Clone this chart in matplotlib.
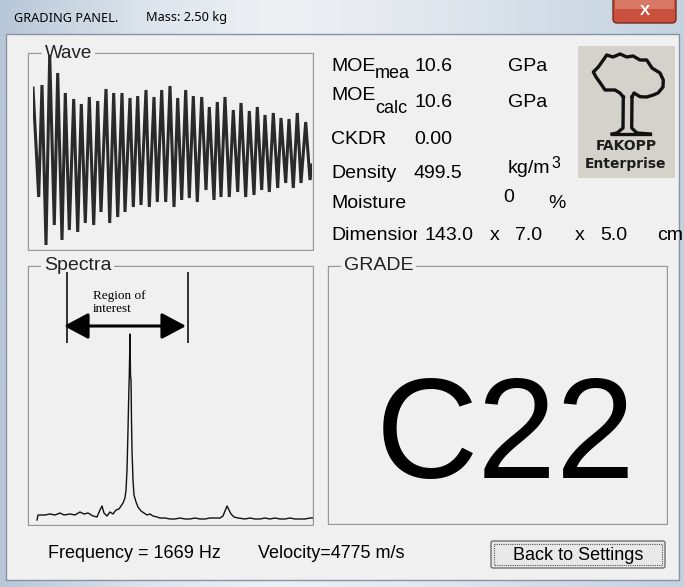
import numpy as np
import matplotlib.pyplot as plt
from matplotlib.patches import Rectangle, FancyBboxPatch, FancyArrowPatch
from matplotlib.colors import LinearSegmentedColormap

plt.rcParams['font.family'] = ['Liberation Sans', 'DejaVu Sans']

# ---- values ----
mass_kg = 2.50
moe_mea = 10.6
moe_calc = 10.6
ckdr = 0.00
density = 499.5
moisture = 0
dims_cm = [143.0, 7.0, 5.0]
frequency_hz = 1669
velocity_ms = 4775
grade = 'C22'

# wave: sample index and amplitude at the extremes of each half cycle
wave_t = [0, 5.7, 9, 13, 16.7, 21.3, 24.7, 29, 32.3, 36.3, 40.7, 44.7, 48.3, 52.3,
          56.3, 60.7, 64.7, 68, 73, 76.7, 80.7, 84.7, 89, 92, 97, 100.3, 104.7, 108,
          113, 116.3, 121, 124.3, 128.7, 132.7, 137, 141, 144.7, 148.7, 152.7, 156.3,
          160.3, 164.3, 168.7, 173, 176.3, 181, 184.3, 188, 192, 196.3, 200.3, 204.7,
          208, 212.7, 216.3, 221, 224.3, 228.7, 232, 236.3, 240.3, 244.7, 248, 252.7,
          256, 260.3, 264.3, 268, 272.7, 277, 279]
wave_amp = [62, -47, 65, -95, 95, -75, 77, -90, 57, -80, 51, -82, 46, -73,
            53, -75, 49, -62, 61, -73, 57, -67, 57, -62, 52, -57, 54, -55,
            60, -57, 53, -52, 60, -52, 64, -57, 52, -50, 60, -48,
            54, -52, 53, -40, 43, -50, 48, -47, 53, -47, 40, -42,
            47, -47, 39, -45, 43, -40, 35, -42, 37, -38, 32, -33,
            31, -38, 37, -33, 28, -30, -15]

# spectrum: frequency (Hz) and relative amplitude
spec_hz = [69, 86, 206, 292, 378, 464, 533, 636, 722, 808, 877, 946, 1032, 1101,
           1152, 1187, 1221, 1273, 1324, 1376, 1428, 1479, 1514, 1548, 1582, 1600,
           1617, 1634, 1646, 1656, 1669, 1677, 1686, 1694, 1703, 1720, 1737, 1772,
           1806, 1858, 1909, 1961, 2012, 2064, 2133, 2184, 2270, 2356, 2442, 2528,
           2614, 2700, 2786, 2872, 2958, 3044, 3130, 3216, 3268, 3302, 3338, 3371,
           3406, 3457, 3526, 3646, 3732, 3818, 3904, 3990, 4076, 4162, 4248, 4334,
           4420, 4506, 4592, 4678, 4764, 4816]
spec_amp = [0, 5, 5, 6, 5, 7, 5, 6, 5, 8, 6, 7, 4, 3,
            10, 14, 7, 4, 8, 6, 10, 11, 14, 17, 22, 30,
            50, 90, 123, 145, 186, 145, 140, 100, 70, 40, 25, 18,
            13, 9, 7, 5, 6, 4, 3, 2, 2, 1, 1, 2,
            1, 1, 2, 1, 1, 2, 2, 2, 4, 9, 14, 10,
            6, 3, 2, 1, 2, 1, 1, 2, 1, 2, 1, 1,
            2, 1, 1, 1, 2, 2]
roi_hz = [585, 2666]

W, H = 684, 587
fig = plt.figure(figsize=(W / 100, H / 100), dpi=100)
bg = fig.add_axes([0, 0, 1, 1])
bg.set_xlim(0, W)
bg.set_ylim(H, 0)
bg.axis('off')


def px_axes(x0, y0, x1, y1):
    ax = fig.add_axes([x0 / W, 1 - y1 / H, (x1 - x0) / W, (y1 - y0) / H])
    ax.axis('off')
    ax.patch.set_alpha(0)
    return ax


# window frame / title bar
frame_cmap = LinearSegmentedColormap.from_list(
    'frame', ['#b7c7d8', '#dbe3eb', '#eef1f4', '#e4e9ee', '#d3dde7', '#c4d2e0'])
bg.imshow(np.linspace(0, 1, 256)[None, :], cmap=frame_cmap, aspect='auto',
          extent=(0, W, H, 0), zorder=0)
bg.add_patch(Rectangle((6, 34), W - 11, H - 41, fc='#f0f0f0', ec='#8593a3', lw=1, zorder=1))

bg.text(14, 18, 'GRADING PANEL.', fontsize=9.2, family='Noto Sans', va='center', zorder=5)
bg.text(146, 18, 'Mass: %.2f kg' % mass_kg, fontsize=9.2, family='Noto Sans', va='center', zorder=5)

# close button
bg.add_patch(FancyBboxPatch((613, -4), 63, 27, boxstyle='round,pad=0,rounding_size=4',
                            fc='#c8503c', ec='#7a2a20', lw=1, zorder=2))
bg.add_patch(Rectangle((615, -2), 59, 11, fc='#e39383', ec='none', alpha=0.6, zorder=3))
bg.text(645, 11, 'X', fontsize=11, fontweight='bold', color='white', ha='center', va='center', zorder=4)


def group_box(x0, y0, x1, y1, label, lx, fs):
    bg.add_patch(Rectangle((x0 + 1, y0 + 1), x1 - x0, y1 - y0, fill=False, ec='white', lw=1, zorder=2))
    bg.add_patch(Rectangle((x0, y0), x1 - x0, y1 - y0, fill=False, ec='#9a9a9a', lw=1, zorder=2))
    bg.text(lx, y0, label, fontsize=fs, color='#222222', va='center', ha='left', zorder=3,
            bbox=dict(fc='#f0f0f0', ec='none', pad=2))


group_box(28, 53, 313, 250, 'Wave', 45, 13.5)
group_box(28, 266, 313, 525, 'Spectra', 44, 14)
group_box(328, 266, 667, 524, 'GRADE', 344, 14)

# wave
ax_w = px_axes(33, 52, 312, 250)
ax_w.plot(wave_t, wave_amp, color='#2a2a2a', lw=2.2, solid_joinstyle='miter')
ax_w.set_xlim(0, 279)
ax_w.set_ylim(-100, 98)

# spectra
ax_s = px_axes(33, 270, 313, 525)
ax_s.plot(spec_hz, spec_amp, color='#111111', lw=1.0)
ax_s.set_xlim(0, 4816)
ax_s.set_ylim(-5, 250)
ax_s.vlines(roi_hz, 177, 248, color='#111111', lw=1.2)
ax_s.add_patch(FancyArrowPatch((roi_hz[0] - 52, 194), (roi_hz[1] - 34, 194),
                               arrowstyle='<|-|>,head_length=0.75,head_width=0.4',
                               mutation_scale=20, color='black', lw=2.2,
                               shrinkA=0, shrinkB=0))
bg.text(93, 290, 'Region of\ninterest', family='Liberation Serif', fontsize=9.5,
        va='top', ha='left', linespacing=1.15, zorder=5)

# grade
bg.text(506, 478, grade, fontsize=102, ha='center', va='baseline', color='black', zorder=5)

# results column
fs = 14
bg.text(331, 71, 'MOE', fontsize=fs, zorder=5)
bg.text(375, 78, 'mea', fontsize=13, zorder=5)
bg.text(414, 71, '%.1f' % moe_mea, fontsize=fs, zorder=5)
bg.text(508, 71, 'GPa', fontsize=fs, zorder=5)

bg.text(331, 100, 'MOE', fontsize=fs, zorder=5)
bg.text(375, 113, 'calc', fontsize=13, zorder=5)
bg.text(414, 107, '%.1f' % moe_calc, fontsize=fs, zorder=5)
bg.text(508, 107, 'GPa', fontsize=fs, zorder=5)

bg.text(331, 144, 'CKDR', fontsize=fs, zorder=5)
bg.text(414, 144, '%.2f' % ckdr, fontsize=fs, zorder=5)

bg.text(331, 178, 'Density', fontsize=fs, zorder=5)
bg.text(414, 178, '%.1f' % density, fontsize=fs, zorder=5)
bg.text(508, 173, 'kg/m', fontsize=fs, zorder=5)
bg.text(551, 168, '3', fontsize=11.5, zorder=5)

bg.text(331, 208, 'Moisture', fontsize=fs, zorder=5)
bg.text(503, 202, '%d' % moisture, fontsize=fs, zorder=5)
bg.text(548, 208, '%', fontsize=fs, zorder=5)

# the label is cut by the next field in the panel
dim_lab = bg.text(331, 240, 'Dimensions', fontsize=fs, zorder=5, clip_on=True)
dim_lab.set_clip_path(Rectangle((325, 220), 92, 30, transform=bg.transData))
bg.text(424, 240, '%.1f' % dims_cm[0], fontsize=fs, zorder=5)
bg.text(490, 240, 'x', fontsize=fs, zorder=5)
bg.text(515, 240, '%.1f' % dims_cm[1], fontsize=fs, zorder=5)
bg.text(575, 240, 'x', fontsize=fs, zorder=5)
bg.text(600, 240, '%.1f' % dims_cm[2], fontsize=fs, zorder=5)
bg.text(657, 240, 'cm', fontsize=fs, zorder=5)

# logo
bg.add_patch(Rectangle((578, 46), 97, 132, fc='#d5d2cb', ec='none', zorder=2))
canopy_x = [632, 634, 640, 646.7, 653.3, 658, 663, 663.3, 660, 652, 646.7, 640, 633, 626.7,
            620, 613, 606.7, 603.3, 598.3, 593.3, 596, 601, 605, 615, 620, 623.3]
canopy_y = [97, 93, 96.7, 97, 95, 93, 87, 80, 73, 68, 60, 60, 56, 57,
            54, 57, 55, 60, 67, 72, 77, 84, 90, 90, 93, 97]
bg.plot(canopy_x, canopy_y, color='#111111', lw=2.4, solid_joinstyle='round', zorder=3)
bg.plot([632, 631.7, 637, 650], [97, 128, 133, 134], color='#111111', lw=2.4, zorder=3)
bg.plot([623.3, 623, 617, 612], [97, 128, 133, 134], color='#111111', lw=2.4, zorder=3)
bg.plot([612, 650], [134, 134], color='#111111', lw=2.4, zorder=3)
bg.text(626, 150, 'FAKOPP', family='DejaVu Sans', fontweight='bold', fontsize=10,
        ha='center', color='#1c1c1c', zorder=4)
bg.text(626, 168, 'Enterprise', family='DejaVu Sans', fontweight='bold', fontsize=10,
        ha='center', color='#1c1c1c', zorder=4)

# bottom line
bg.text(48, 553, 'Frequency = %d Hz' % frequency_hz, fontsize=13, va='center', zorder=5)
bg.text(258, 553, 'Velocity=%d m/s' % velocity_ms, fontsize=13, va='center', zorder=5)

bg.add_patch(FancyBboxPatch((491, 541), 174, 27, boxstyle='round,pad=0,rounding_size=2',
                            fc='#e9e9e9', ec='#707070', lw=1, zorder=3))
bg.add_patch(Rectangle((494, 544), 168, 21, fill=False, ec='#555555', lw=0.8,
                       ls=(0, (1, 1)), zorder=4))
bg.text(578, 555, 'Back to Settings', fontsize=13, ha='center', va='center', zorder=5)

plt.savefig('out.png', dpi=100)
